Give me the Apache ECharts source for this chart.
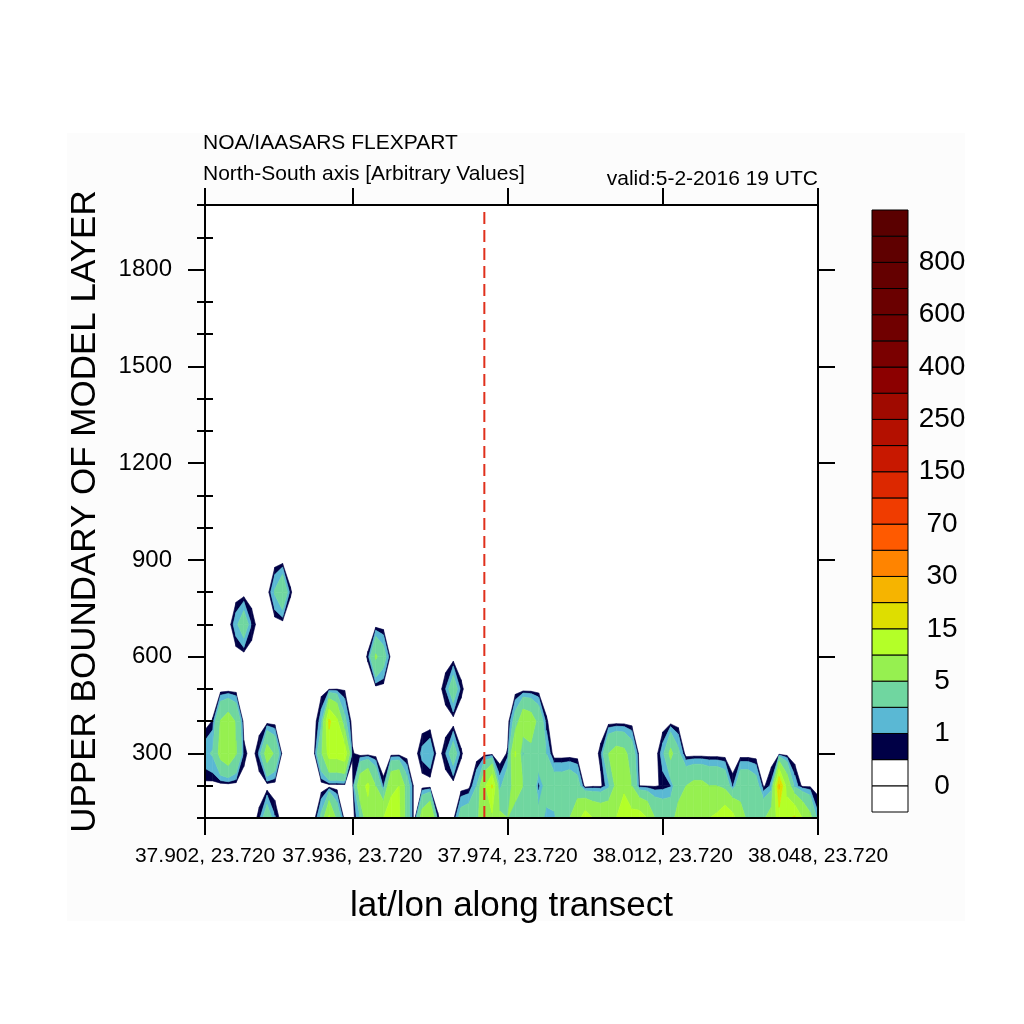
<!DOCTYPE html>
<html>
<head>
<meta charset="utf-8">
<script src="https://cdn.jsdelivr.net/npm/echarts@6/dist/echarts.min.js"></script>
<style>
html,body{margin:0;padding:0;background:#ffffff;}
#chart{width:1024px;height:1024px;}
</style>
</head>
<body>
<div id="chart"></div>
<script>
// ---------------- DATA ----------------
// Heights (upper boundary of model layer, m) of the data rows
const layerHeights = [100, 200, 300, 400, 500, 600, 700, 800, 900];

// Concentration per transect point (80 points along the transect), one array per layer
const conc100 = [
  0, 0, 0, 0, 0, 0, 0, 0.76, 3.5, 1.1,
  0, 0, 0, 0, 0, 2.5, 11, 4, 0, 0,
  2, 8, 7, 10, 12, 11, 3.1, 0, 7, 10.5,
  0.6, 0, 0.2, 3, 3.5, 4, 8, 9, 6, 5,
  4, 3.5, 3.5, 3, 1.5, 1.6, 3.5, 5, 8, 13,
  10, 9, 9, 10, 13, 12, 13, 10, 5, 4,
  4, 6, 7, 8, 9, 10, 11, 14, 12, 6,
  4.5, 4, 4.5, 7, 12, 14, 16, 10, 6, 1.2];
const conc200 = [
  0.3, 0.2, 0, 0, 0, 0, 0, 0, 0, 0,
  0, 0, 0, 0, 0, 0, 0, 0, 0, 0,
  8, 11, 5, 0.7, 9, 10, 3.1, 0, 0, 0,
  0, 0, 0, 0, 0.2, 2, 9, 15.5, 1.5, 4,
  6, 5, 4.5, 0.7, 3, 3.5, 3.5, 4, 3, 0,
  0.3, 0.3, 1.5, 6, 9, 5, 0.45, 0.4, 0.4, 0.6,
  0.9, 4, 5, 6, 6, 5, 5, 4, 0.8, 4,
  4, 3, 0.35, 1.2, 21, 8, 1.5, 0.3, 0.3, 0.2];
const conc300 = [
  1.6, 2.2, 6.2, 8, 5.2, 0.84, 0, 1.14, 7, 4.5,
  0, 0, 0, 0, 0, 4.5, 12, 12, 13.3, 0.63,
  0, 0, 0, 0, 0, 0, 0, 0, 1.3, 1.9,
  0, 1.0, 3.2, 0.6, 0, 0, 0, 0, 0, 0.6,
  10.5, 1.8, 4, 4, 2, 0, 0, 0, 0, 0,
  0, 0.73, 5, 6.5, 6, 3.5, 0, 0, 0, 1.5,
  6, 2.5, 0, 0, 0, 0, 0, 0, 0, 0,
  0, 0, 0, 0, 0, 0, 0, 0, 0, 0];
const conc400 = [
  0.1, 0.56, 5.2, 7, 4.7, 0, 0, 0, 0, 0,
  0, 0, 0, 0, 0, 1.5, 16, 11, 2.5, 0,
  0, 0, 0, 0, 0, 0, 0, 0, 0, 0,
  0, 0, 0, 0, 0, 0, 0, 0, 0, 0,
  3, 8, 7, 4, 0.6, 0, 0, 0, 0, 0,
  0, 0, 0, 0, 0, 0, 0, 0, 0, 0,
  0, 0, 0, 0, 0, 0, 0, 0, 0, 0,
  0, 0, 0, 0, 0, 0, 0, 0, 0, 0];
const conc500 = [
  0, 0, 0, 0, 0, 0, 0, 0, 0, 0,
  0, 0, 0, 0, 0, 0.2, 0.3, 0.45, 0.4, 0,
  0, 0, 0, 0, 0, 0, 0, 0, 0, 0,
  0, 1.0, 3.5, 0.7, 0, 0, 0, 0, 0, 0,
  0, 0, 0, 0, 0, 0, 0, 0, 0, 0,
  0, 0, 0, 0, 0, 0, 0, 0, 0, 0,
  0, 0, 0, 0, 0, 0, 0, 0, 0, 0,
  0, 0, 0, 0, 0, 0, 0, 0, 0, 0];
const conc600 = [
  0, 0, 0, 0, 0, 0, 0, 0, 0, 0,
  0, 0, 0, 0, 0, 0, 0, 0, 0, 0,
  0, 0.6, 5.5, 3.1, 0, 0, 0, 0, 0, 0,
  0, 0, 0, 0, 0, 0, 0, 0, 0, 0,
  0, 0, 0, 0, 0, 0, 0, 0, 0, 0,
  0, 0, 0, 0, 0, 0, 0, 0, 0, 0,
  0, 0, 0, 0, 0, 0, 0, 0, 0, 0,
  0, 0, 0, 0, 0, 0, 0, 0, 0, 0];
const conc700 = [
  0, 0, 0, 0, 1.6, 3.5, 1.0, 0, 0, 0,
  0, 0, 0, 0, 0, 0, 0, 0, 0, 0,
  0, 0, 0, 0, 0, 0, 0, 0, 0, 0,
  0, 0, 0, 0, 0, 0, 0, 0, 0, 0,
  0, 0, 0, 0, 0, 0, 0, 0, 0, 0,
  0, 0, 0, 0, 0, 0, 0, 0, 0, 0,
  0, 0, 0, 0, 0, 0, 0, 0, 0, 0,
  0, 0, 0, 0, 0, 0, 0, 0, 0, 0];
const conc800 = [
  0, 0, 0, 0, 0, 0, 0, 0, 0, 2.2,
  4.5, 0.6, 0, 0, 0, 0, 0, 0, 0, 0,
  0, 0, 0, 0, 0, 0, 0, 0, 0, 0,
  0, 0, 0, 0, 0, 0, 0, 0, 0, 0,
  0, 0, 0, 0, 0, 0, 0, 0, 0, 0,
  0, 0, 0, 0, 0, 0, 0, 0, 0, 0,
  0, 0, 0, 0, 0, 0, 0, 0, 0, 0,
  0, 0, 0, 0, 0, 0, 0, 0, 0, 0];
const conc900 = [
  0, 0, 0, 0, 0, 0, 0, 0, 0, 0,
  0, 0, 0, 0, 0, 0, 0, 0, 0, 0,
  0, 0, 0, 0, 0, 0, 0, 0, 0, 0,
  0, 0, 0, 0, 0, 0, 0, 0, 0, 0,
  0, 0, 0, 0, 0, 0, 0, 0, 0, 0,
  0, 0, 0, 0, 0, 0, 0, 0, 0, 0,
  0, 0, 0, 0, 0, 0, 0, 0, 0, 0,
  0, 0, 0, 0, 0, 0, 0, 0, 0, 0];
const concRows = [conc100, conc200, conc300, conc400, conc500, conc600, conc700, conc800, conc900];

// Transect tick positions (point index) and their labels
const xTickPositions = [0, 19, 39, 59, 79];
const xTickLabels = ['37.902, 23.720', '37.936, 23.720', '37.974, 23.720', '38.012, 23.720', '38.048, 23.720'];
// Marked transect point (red dashed line)
const markerPoint = 36;

// Height axis ticks
const yMajorTicks = [300, 600, 900, 1200, 1500, 1800];
const yMinorTicks = [100, 200, 400, 500, 700, 800, 1000, 1100, 1300, 1400, 1600, 1700, 1900, 2000];

// Contour levels and fill colours (box 0 = below first level)
const contourLevels = [0, 0.5, 1, 2, 5, 10, 15, 20, 30, 50, 70, 100, 150, 200, 250, 300, 400, 500, 600, 700, 800, 900];
const levelColors = ['#ffffff', '#ffffff', '#000046', '#5ab8d4', '#70d6a0', '#96f050', '#b4ff28', '#dede00',
  '#f6b400', '#ff8400', '#ff5a00', '#f03c00', '#dc2800', '#c81800', '#b41000', '#a00a00', '#8c0000',
  '#7a0000', '#700000', '#6a0000', '#640000', '#5f0000', '#5a0000'];
const colorbarLabels = ['0', '1', '5', '15', '30', '70', '150', '250', '400', '600', '800'];

// ---------------- RENDER ----------------
const FONT = 'Liberation Sans, Arial, Helvetica, sans-serif';
const nCols = conc100.length;

const cells = [];
for (let r = 0; r < layerHeights.length - 1; r++) {
  for (let c = 0; c < nCols - 1; c++) {
    cells.push([c, layerHeights[r], r]);
  }
}

function boxIndex(v) {
  let k = 0;
  while (k < contourLevels.length && v >= contourLevels[k]) k++;
  return k;
}
function clipPoly(poly, level, keepAbove) {
  const out = [];
  const n = poly.length;
  for (let i = 0; i < n; i++) {
    const a = poly[i], b = poly[(i + 1) % n];
    const ina = keepAbove ? a.v >= level : a.v <= level;
    const inb = keepAbove ? b.v >= level : b.v <= level;
    if (ina) out.push(a);
    if (ina !== inb) {
      const t = (level - a.v) / (b.v - a.v);
      out.push({ x: a.x + t * (b.x - a.x), y: a.y + t * (b.y - a.y), v: level });
    }
  }
  return out;
}

// filled contours per grid cell: linear along cell edges, straight segments inside a cell
function renderCell(params, api) {
  const c = api.value(0);
  const r = api.value(2);
  const mk = (cc, rr) => {
    const p = api.coord([cc, layerHeights[rr]]);
    return { x: p[0], y: p[1], v: concRows[rr][cc] };
  };
  const quad = [mk(c, r), mk(c + 1, r), mk(c + 1, r + 1), mk(c, r + 1)];
  const vs = quad.map(p => p.v);
  const kmin = Math.max(2, boxIndex(Math.min.apply(null, vs)));
  const kmax = boxIndex(Math.max.apply(null, vs));
  const children = [];
  for (let k = kmin; k <= kmax; k++) {
    const lo = contourLevels[k - 1];
    const hi = k < contourLevels.length ? contourLevels[k] : null;
    let poly = clipPoly(quad, lo, true);
    if (hi !== null && poly.length) poly = clipPoly(poly, hi, false);
    if (poly.length >= 3) {
      children.push({
        type: 'polygon',
        shape: { points: poly.map(p => [p.x, p.y]) },
        style: { fill: levelColors[k], stroke: levelColors[k], lineWidth: 0.6 }
      });
    }
  }
  return { type: 'group', children: children };
}

const axisLineStyle = { color: '#000', width: 2 };

const option = {
  animation: false,
  backgroundColor: '#ffffff',
  graphic: [{
    type: 'rect', z: -100, silent: true,
    shape: { x: 67, y: 133, width: 898, height: 788 },
    style: { fill: '#fcfcfc' }
  }],
  title: [
    { text: 'NOA/IAASARS FLEXPART', left: 203, top: 133, padding: 0,
      textStyle: { fontSize: 21, fontWeight: 'normal', color: '#000', fontFamily: FONT } },
    { text: 'North-South axis [Arbitrary Values]', left: 203, top: 164, padding: 0,
      textStyle: { fontSize: 21, fontWeight: 'normal', color: '#000', fontFamily: FONT } },
    { text: 'valid:5-2-2016 19 UTC', right: 206, top: 169, padding: 0,
      textStyle: { fontSize: 21, fontWeight: 'normal', color: '#000', fontFamily: FONT } }
  ],
  grid: [
    { left: 205, right: 206, top: 205, bottom: 206, show: true, backgroundColor: '#ffffff', borderWidth: 0 },
    { left: 872, top: 210, width: 36, height: 602, show: false }
  ],
  xAxis: [
    { gridIndex: 0, type: 'value', min: 0, max: nCols - 1, position: 'bottom', z: 10,
      axisLine: { show: true, onZero: false, lineStyle: axisLineStyle },
      axisTick: { show: true, customValues: xTickPositions, length: 17, lineStyle: axisLineStyle },
      axisLabel: { show: true, customValues: xTickPositions, margin: 28, fontSize: 21, color: '#000', fontFamily: FONT,
        formatter: function (v) {
          for (let i = 0; i < xTickPositions.length; i++) if (Math.abs(xTickPositions[i] - v) < 1e-6) return xTickLabels[i];
          return '';
        } },
      splitLine: { show: false },
      name: 'lat/lon along transect', nameLocation: 'middle', nameGap: 71,
      nameTextStyle: { fontSize: 35, color: '#000', fontFamily: FONT } },
    { gridIndex: 0, type: 'value', min: 0, max: nCols - 1, position: 'top', z: 10,
      axisLine: { show: true, onZero: false, lineStyle: axisLineStyle },
      axisTick: { show: true, customValues: xTickPositions, length: 17, lineStyle: axisLineStyle },
      axisLabel: { show: false }, splitLine: { show: false } },
    { gridIndex: 1, type: 'value', min: 0, max: 1, show: false }
  ],
  yAxis: [
    { gridIndex: 0, type: 'value', min: 100, max: 2000, position: 'left', z: 10,
      axisLine: { show: true, onZero: false, lineStyle: axisLineStyle },
      axisTick: { show: true, customValues: yMajorTicks, length: 17, lineStyle: axisLineStyle },
      axisLabel: { show: true, customValues: yMajorTicks, margin: 33, fontSize: 24, color: '#000', fontFamily: FONT,
        formatter: function (v) { return String(v); } },
      splitLine: { show: false },
      name: 'UPPER BOUNDARY OF MODEL LAYER', nameLocation: 'middle', nameRotate: 90, nameGap: 102,
      nameTextStyle: { fontSize: 35, color: '#000', fontFamily: FONT } },
    { gridIndex: 0, type: 'value', min: 100, max: 2000, position: 'left', z: 10,
      axisLine: { show: false },
      axisTick: { show: true, customValues: yMinorTicks, length: 8, lineStyle: axisLineStyle },
      axisLabel: { show: false }, splitLine: { show: false } },
    { gridIndex: 0, type: 'value', min: 100, max: 2000, position: 'right', z: 10,
      axisLine: { show: true, onZero: false, lineStyle: axisLineStyle },
      axisTick: { show: true, customValues: yMajorTicks, length: 17, lineStyle: axisLineStyle },
      axisLabel: { show: false }, splitLine: { show: false } },
    { gridIndex: 0, type: 'value', min: 100, max: 2000, position: 'right', z: 10,
      axisLine: { show: false },
      axisTick: { show: true, customValues: yMinorTicks, length: 8, lineStyle: axisLineStyle },
      axisLabel: { show: false }, splitLine: { show: false } },
    { gridIndex: 1, type: 'value', min: 0, max: levelColors.length, position: 'right',
      axisLine: { show: false }, axisTick: { show: false }, splitLine: { show: false },
      axisLabel: { show: true, customValues: colorbarLabels.map((_, m) => 2 * m + 1), align: 'center', margin: 34,
        fontSize: 28, color: '#000', fontFamily: FONT,
        formatter: function (v) { return colorbarLabels[Math.round((v - 1) / 2)]; } } }
  ],
  series: [
    { type: 'custom', name: 'concentration', xAxisIndex: 0, yAxisIndex: 0, clip: true, silent: true, z: 2,
      encode: { x: 0, y: 1 }, data: cells, renderItem: renderCell },
    { type: 'custom', name: 'marker', xAxisIndex: 0, yAxisIndex: 0, clip: true, silent: true, z: 3,
      encode: { x: 0 }, data: [[markerPoint]],
      renderItem: function (params, api) {
        const a = api.coord([api.value(0), 100]);
        const b = api.coord([api.value(0), 2000]);
        return { type: 'line', shape: { x1: a[0], y1: a[1], x2: b[0], y2: b[1] },
          style: { stroke: '#e0301c', lineWidth: 2, lineDash: [12, 6] } };
      } },
    { type: 'custom', name: 'colorbar', xAxisIndex: 2, yAxisIndex: 4, silent: true, z: 2,
      encode: { y: 0 }, data: levelColors.map((_, k) => [k]),
      renderItem: function (params, api) {
        const k = api.value(0);
        const p0 = api.coord([0, k]);
        const p1 = api.coord([1, k + 1]);
        return { type: 'rect', shape: { x: p0[0], y: p1[1], width: p1[0] - p0[0], height: p0[1] - p1[1] },
          style: { fill: levelColors[k], stroke: '#000', lineWidth: 1 } };
      } }
  ]
};

const chart = echarts.init(document.getElementById('chart'), null, { renderer: 'canvas' });
chart.setOption(option);
</script>
</body>
</html>
